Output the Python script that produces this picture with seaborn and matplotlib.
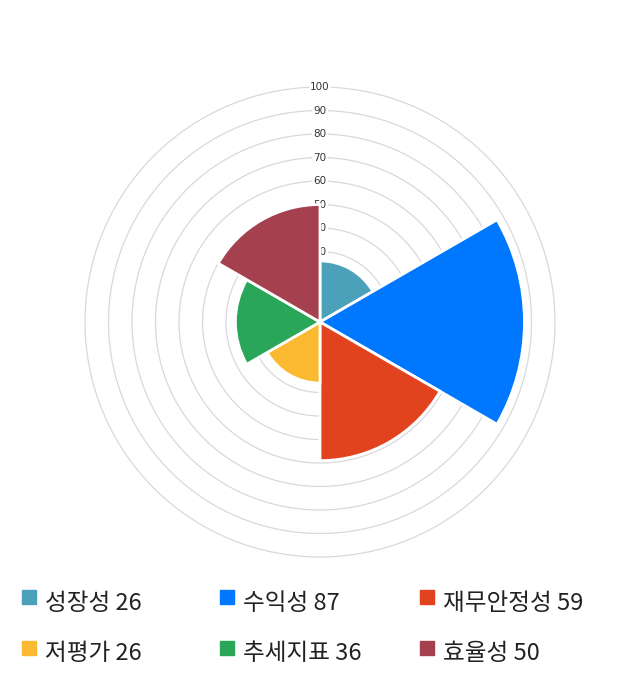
import numpy as np
import matplotlib
matplotlib.use("Agg")
import matplotlib.pyplot as plt
from matplotlib.patches import Rectangle
import seaborn as sns

# data
categories = ["성장성", "수익성", "재무안정성", "저평가", "추세지표", "효율성"]
scores = [26, 87, 59, 26, 36, 50]
colors = ["#4aa1b9", "#0077ff", "#e2431f", "#fbb932", "#2aa658", "#a5404f"]
ring_ticks = [10, 20, 30, 40, 50, 60, 70, 80, 90, 100]

sns.set_theme(style="white")
plt.rcParams["font.family"] = ["Noto Sans CJK KR", "DejaVu Sans"]

fig = plt.figure(figsize=(6.4, 7.0), dpi=100)
ax = fig.add_axes([0.1328, 0.2043, 0.7344, 0.6714], projection="polar")
ax.set_theta_zero_location("N")
ax.set_theta_direction(-1)

n = len(categories)
width = 2 * np.pi / n
theta = np.arange(n) * width
palette = sns.color_palette(colors)

# ring grid
circle = np.linspace(0, 2 * np.pi, 361)
for r in ring_ticks:
    ax.plot(circle, np.full_like(circle, r), color="#d9d9d9", lw=0.9,
            zorder=1, clip_on=False)
    ax.text(0, r, str(r), ha="center", va="center", fontsize=7.5,
            color="#333333", family="DejaVu Sans", zorder=2,
            bbox=dict(boxstyle="square,pad=0.1", fc="white", ec="none"))

ax.bar(theta, scores, width=width, align="edge", color=palette,
       edgecolor="white", linewidth=2, zorder=3)

ax.set_ylim(0, 100)
ax.set_xticks([])
ax.set_yticks([])
ax.grid(False)
ax.spines["polar"].set_visible(False)

# legend
col_x = [22, 220, 420]
row_y = [590, 641]
for i, (cat, val) in enumerate(zip(categories, scores)):
    x = col_x[i % 3]
    y = row_y[i // 3]
    fig.patches.append(Rectangle((x / 640, (700 - y - 14) / 700), 14 / 640, 14 / 700,
                                 transform=fig.transFigure, color=palette[i]))
    fig.text((x + 23) / 640, (700 - y - 13) / 700, f"{cat} {val}", fontsize=17,
             color="#222222", va="center", ha="left")

fig.savefig("out.png", dpi=100)
